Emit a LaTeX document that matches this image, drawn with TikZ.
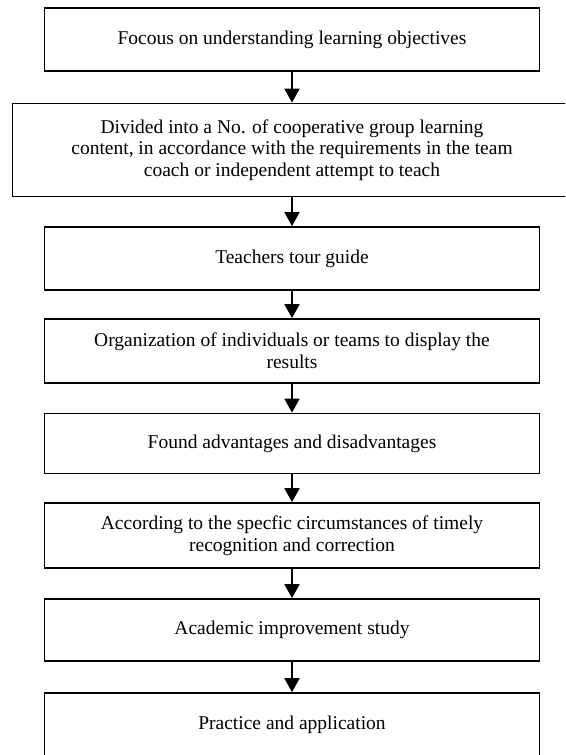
\documentclass[tikz,border=0pt]{standalone}
\usepackage{fontspec}
\setmainfont{Liberation Serif}
\usetikzlibrary{arrows.meta}
\begin{document}
\begin{tikzpicture}[x=1pt,y=-1pt,
  box/.style={draw=black, line width=1.7pt, minimum width=495pt, align=center,
    font=\fontsize{19.5}{21.7}\selectfont, inner sep=0pt},
  arr/.style={line width=1.7pt, -{Triangle[length=14pt,width=15pt]}}]
\useasboundingbox (0,0) rectangle (565,755);
\clip (0,0) rectangle (565,755);
\node[box, minimum height=63pt] (b1) at (292,39.5) {Focous on understanding learning objectives};
\node[box, minimum height=93pt, minimum width=559pt] (b2) at (292,150) {Divided into a No. of cooperative group learning\\content, in accordance with the requirements in the team\\coach or independent attempt to teach};
\node[box, minimum height=63pt] (b3) at (292,258.5) {Teachers tour guide};
\node[box, minimum height=64pt] (b4) at (292,351) {Organization of individuals or teams to display the\\results};
\node[box, minimum height=60pt] (b5) at (292,443.5) {Found advantages and disadvantages};
\node[box, minimum height=65pt] (b6) at (292,535.5) {According to the specfic circumstances of timely\\recognition and correction};
\node[box, minimum height=62pt] (b7) at (292,630) {Academic improvement study};
\node[box, minimum height=64pt] (b8) at (292,725) {Practice and application};
\draw[arr] (b1.south) -- (b2.north);
\draw[arr] (b2.south) -- (b3.north);
\draw[arr] (b3.south) -- (b4.north);
\draw[arr] (b4.south) -- (b5.north);
\draw[arr] (b5.south) -- (b6.north);
\draw[arr] (b6.south) -- (b7.north);
\draw[arr] (b7.south) -- (b8.north);
\end{tikzpicture}
\end{document}
